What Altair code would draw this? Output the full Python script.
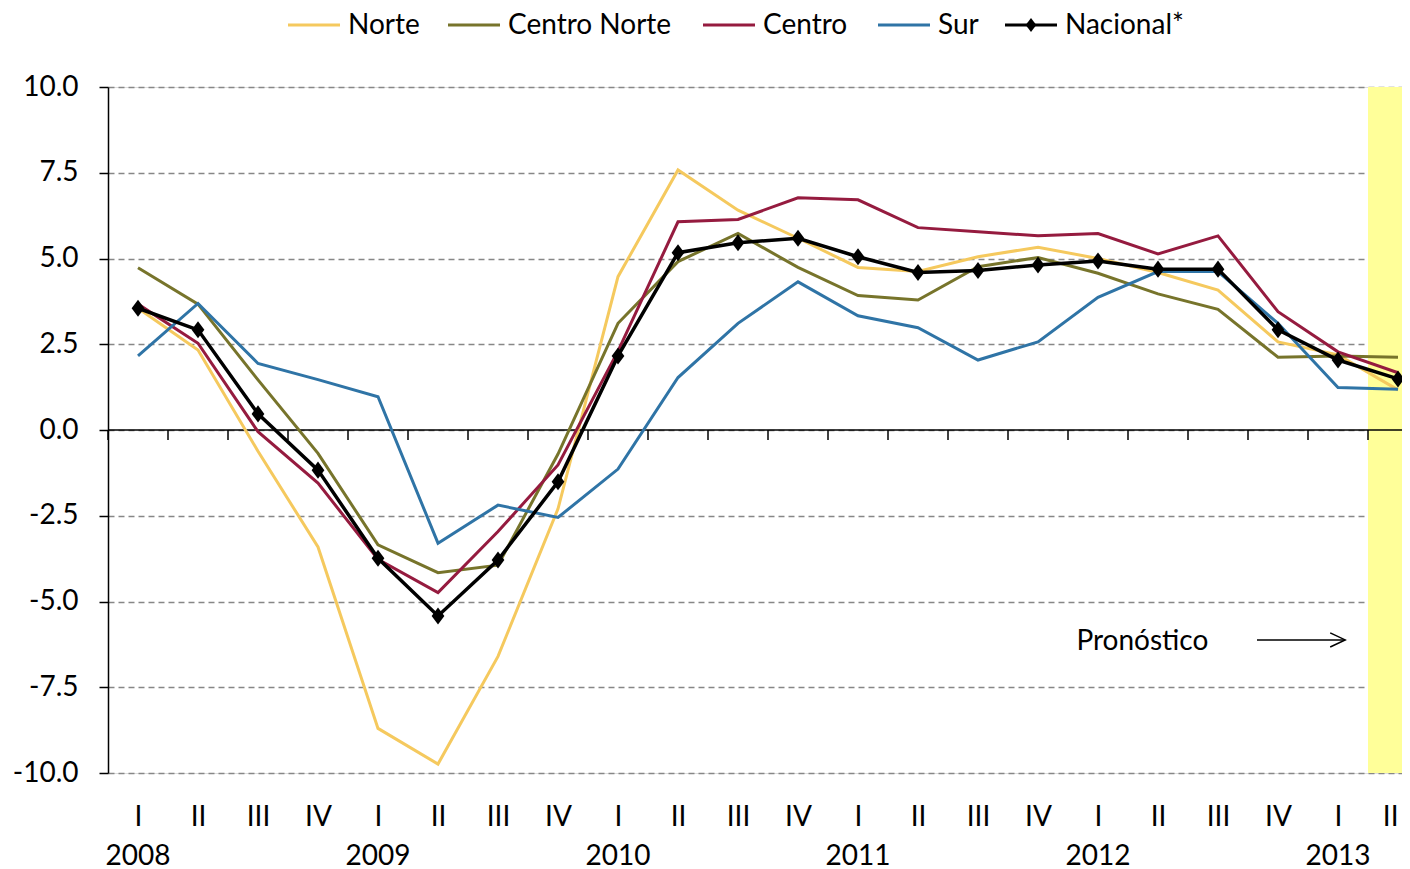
import altair as alt
import pandas as pd

# ---------------- data ----------------
quarters = ["I", "II", "III", "IV", "I", "II", "III", "IV", "I", "II", "III",
            "IV", "I", "II", "III", "IV", "I", "II", "III", "IV", "I", "II"]
years = ["2008", "2009", "2010", "2011", "2012", "2013"]
year_start_idx = [0, 4, 8, 12, 16, 20]
series_names = ["Norte", "Centro Norte", "Centro", "Sur", "Nacional*"]

norte = [3.55, 2.33, -0.62, -3.41, -8.70, -9.74, -6.60, -2.30, 4.47, 7.58, 6.41,
         5.59, 4.74, 4.62, 5.05, 5.33, 5.00, 4.59, 4.08, 2.57, 2.19, 1.17]
centro_norte = [4.73, 3.67, 1.46, -0.68, -3.35, -4.16, -3.94, -0.70, 3.11, 4.91, 5.73,
                4.74, 3.92, 3.79, 4.76, 5.03, 4.57, 3.97, 3.52, 2.12, 2.16, 2.12]
centro = [3.67, 2.53, -0.05, -1.55, -3.77, -4.74, -2.96, -1.02, 2.30, 6.07, 6.14,
          6.77, 6.71, 5.90, 5.78, 5.66, 5.73, 5.13, 5.66, 3.45, 2.28, 1.67]
sur = [2.16, 3.69, 1.94, 1.47, 0.97, -3.30, -2.19, -2.55, -1.14, 1.53, 3.11,
       4.32, 3.33, 2.98, 2.04, 2.57, 3.87, 4.62, 4.62, 3.11, 1.24, 1.19]
nacional = [3.55, 2.92, 0.47, -1.17, -3.74, -5.42, -3.79, -1.51, 2.16, 5.17, 5.46,
            5.59, 5.05, 4.59, 4.65, 4.81, 4.93, 4.69, 4.69, 2.92, 2.04, 1.49]

colors = ["#F5C95E", "#77742B", "#951B3F", "#2F74A6", "#000000"]
y_ticks = [-10, -7.5, -5, -2.5, 0, 2.5, 5, 7.5, 10]
forecast_idx = [21]
annot_text = "Pronóstico"

# ---------------- tables ----------------
rows = []
for name, vals in zip(series_names, [norte, centro_norte, centro, sur, nacional]):
    for i, v in enumerate(vals):
        rows.append({"serie": name, "idx": i, "valor": v})
df = pd.DataFrame(rows)

W, H = 1294, 686
STEP = 60.0
FONT = "Lato"
FS = 28
DIAMOND = "M0,-1L0.75,0L0,1L-0.75,0Z"
LAST = len(quarters) - 1

xscale = alt.Scale(domain=[-0.5, -0.5 + W / STEP], nice=False, zero=False)
yscale = alt.Scale(domain=[-10, 10], nice=False, zero=False)
cscale = alt.Scale(domain=series_names, range=colors)

roman_expr = "['" + "','".join(quarters) + "'][datum.value]"

x_axis = alt.Axis(values=list(range(len(quarters))), labelExpr=roman_expr,
                  domain=False, ticks=False, grid=False, labelPadding=30,
                  labelFontSize=FS, labelFont=FONT, labelColor="black",
                  labelFlush=False, labelOverlap=False, labelBaseline="top",
                  labelAlign={"condition": {"test": f"datum.value == {LAST}", "value": "right"},
                              "value": "center"})
y_axis = alt.Axis(values=y_ticks,
                  labelExpr="(datum.value < 0 ? '-' : '') + format(abs(datum.value), '.1f')",
                  labelFontSize=FS, labelFont=FONT, labelColor="black",
                  tickColor="black", tickSize=9, tickWidth=1.5,
                  domainColor="black", domainWidth=1.5, labelPadding=21,
                  grid=True, gridColor="#878787", gridDash=[6, 4], gridWidth=1.5)
x_enc = alt.X("idx:Q", scale=xscale, title=None, axis=x_axis)
y_enc = alt.Y("valor:Q", scale=yscale, title=None, axis=y_axis)

base = alt.Chart(df)

# forecast band
band_df = pd.DataFrame({"x0": [i - 0.5 for i in forecast_idx], "x1": [i + 0.5 for i in forecast_idx]})
band = alt.Chart(band_df).mark_rect(color="#FFFF99", clip=True).encode(
    x=alt.X("x0:Q", scale=xscale, axis=x_axis, title=None), x2="x1:Q",
    y=alt.datum(-10), y2=alt.datum(10))

# zero axis line
zero = alt.Chart(pd.DataFrame({"v": [0]})).mark_rule(color="black", strokeWidth=1.5).encode(
    y=alt.Y("v:Q", scale=yscale, axis=y_axis, title=None))

# category boundary ticks on the zero line
bound_df = pd.DataFrame({"b": [i - 0.5 for i in range(len(quarters))]})
bticks = alt.Chart(bound_df).mark_rule(color="black", strokeWidth=1.5, y2Offset=10).encode(
    x=alt.X("b:Q", scale=xscale, axis=x_axis, title=None),
    y=alt.datum(0), y2=alt.datum(0))

lines_reg = base.transform_filter(alt.datum.serie != "Nacional*").mark_line(strokeWidth=3).encode(
    x=x_enc, y=y_enc, color=alt.Color("serie:N", scale=cscale, legend=None))
line_nac = base.transform_filter(alt.datum.serie == "Nacional*").mark_line(strokeWidth=3.5).encode(
    x=x_enc, y=y_enc, color=alt.Color("serie:N", scale=cscale, legend=None))
pts_nac = base.transform_filter(alt.datum.serie == "Nacional*").mark_point(
    shape=DIAMOND, filled=True, color="black", size=290, opacity=1).encode(x=x_enc, y=y_enc)

# annotation
annot = alt.Chart(pd.DataFrame({"x": [16.74], "y": [-6.18], "t": [annot_text]})).mark_text(
    font=FONT, fontSize=FS, color="black", align="center", baseline="middle").encode(
    x=alt.X("x:Q", scale=xscale), y=alt.Y("y:Q", scale=yscale), text="t:N")
arrow = alt.Chart(pd.DataFrame({"x0": [18.65], "x1": [20.12], "y": [-6.12]})).mark_rule(
    color="black", strokeWidth=1.5).encode(
    x=alt.X("x0:Q", scale=xscale), x2="x1:Q", y=alt.Y("y:Q", scale=yscale))
head = alt.Chart(pd.DataFrame({"x": [20.12], "y": [-6.12]})).mark_point(
    shape="M-1,-0.47L0,0L-1,0.47", size=900, filled=False, stroke="black",
    strokeWidth=1.5, opacity=1).encode(x=alt.X("x:Q", scale=xscale), y=alt.Y("y:Q", scale=yscale))

# year labels
year_df = pd.DataFrame({"idx": year_start_idx, "year": years})
year_txt = alt.Chart(year_df).mark_text(font=FONT, fontSize=FS, color="black",
                                         align="center", baseline="alphabetic").encode(
    x=alt.X("idx:Q", scale=xscale), y=alt.value(H + 92), text="year:N")

# legend (drawn manually above the plot)
one = pd.DataFrame({"k": [0]})
leg_sym_x = [180, 340, 595, 770, 897]      # symbol start, px from plot left
leg_len = 52
leg_gap = 8
leg_y = -62
legend_layers = []
for name, col, sx in zip(series_names, colors, leg_sym_x):
    legend_layers.append(alt.Chart(one).mark_rule(color=col, strokeWidth=3).encode(
        x=alt.value(sx), x2=alt.value(sx + leg_len), y=alt.value(leg_y)))
    legend_layers.append(alt.Chart(one).mark_text(
        font=FONT, fontSize=FS, color="black", align="left", baseline="middle").encode(
        x=alt.value(sx + leg_len + leg_gap), y=alt.value(leg_y + 1), text=alt.value(name)))
    if name == "Nacional*":
        legend_layers.append(alt.Chart(one).mark_point(
            shape=DIAMOND, filled=True, color="black", size=200, opacity=1).encode(
            x=alt.value(sx + leg_len / 2), y=alt.value(leg_y)))

chart = alt.layer(band, zero, bticks, lines_reg, line_nac, pts_nac, annot, arrow, head, year_txt,
                  *legend_layers).properties(
    width=W, height=H,
    autosize=alt.AutoSizeParams(type="none"),
    padding={"left": 100, "top": 79, "right": 0, "bottom": 96},
).configure_view(stroke=None).configure(font=FONT)

chart.save("out.html", embed_options={"renderer": "svg", "actions": False})
